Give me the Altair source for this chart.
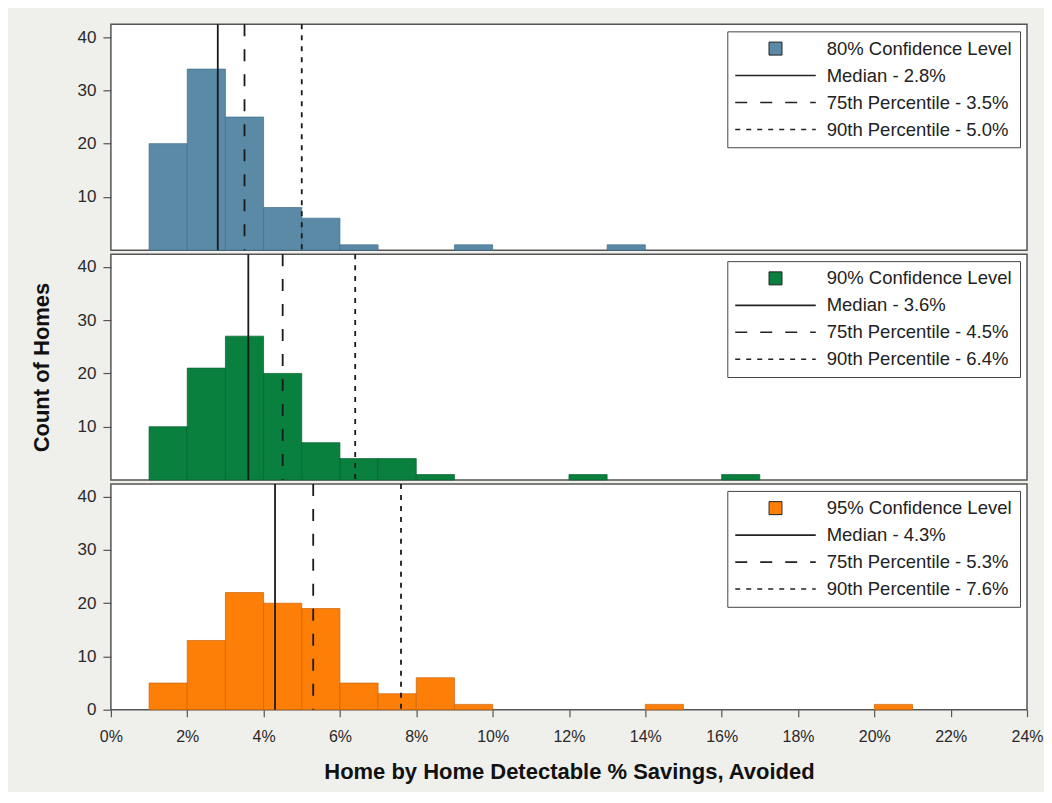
import altair as alt
import pandas as pd

# ---- data ----
levels = ["80% Confidence Level", "90% Confidence Level", "95% Confidence Level"]
bar_colors = ["#5b8aa7", "#0a803e", "#fd7f08"]
edge_colors = ["#3f6e8a", "#06602e", "#c9640a"]

bin_starts_80 = [1, 2, 3, 4, 5, 6, 9, 13]
counts_80 = [20, 34, 25, 8, 6, 1, 1, 1]

bin_starts_90 = [1, 2, 3, 4, 5, 6, 7, 8, 12, 16]
counts_90 = [10, 21, 27, 20, 7, 4, 4, 1, 1, 1]

bin_starts_95 = [1, 2, 3, 4, 5, 6, 7, 8, 9, 14, 20]
counts_95 = [5, 13, 22, 20, 19, 5, 3, 6, 1, 1, 1]

medians = [2.8, 3.6, 4.3]
p75 = [3.5, 4.5, 5.3]
p90 = [5.0, 6.4, 7.6]

bin_width = 1
x_ticks = list(range(0, 25, 2))

FONT = "Liberation Sans"
PANEL_W = 917
PANEL_H = 226
Y_MAX = 42.4


def panel(i, starts, counts, bottom=False, y_title=None):
    entries = [
        levels[i],
        f"Median - {medians[i]:.1f}%",
        f"75th Percentile - {p75[i]:.1f}%",
        f"90th Percentile - {p90[i]:.1f}%",
    ]
    bars = pd.DataFrame({
        "start": starts,
        "end": [s + bin_width for s in starts],
        "count": counts,
        "entry": levels[i],
    })
    lines = pd.DataFrame({
        "value": [medians[i], p75[i], p90[i]],
        "entry": entries[1:],
    })

    test = f"datum.value === '{levels[i]}'"
    legend = alt.Legend(
        title=None,
        orient="top-right",
        offset=7,
        padding=8,
        fillColor="white",
        strokeColor="#444",
        labelFont=FONT,
        labelFontSize=18.5,
        labelColor="#222",
        labelLimit=400,
        rowPadding=8,
        symbolSize=169,
        symbolOffset=31,
        labelOffset=42,
        symbolType=alt.ExprRef(expr=f"{test} ? 'square' : 'M-6.2,0H6.2'"),
        symbolStrokeColor="#222",
        symbolStrokeWidth=alt.ExprRef(expr=f"{test} ? 1 : 1.6"),
    )

    x_scale = alt.Scale(domain=[0, 24], nice=False, zero=False)
    y_scale = alt.Scale(domain=[0, Y_MAX], nice=False)

    if bottom:
        x_axis = alt.Axis(
            values=x_ticks,
            labelExpr="datum.value + '%'",
            labelFlush=False,
            title="Home by Home Detectable % Savings, Avoided",
            grid=False, domain=False,
            tickSize=7, tickColor="#555", tickWidth=1.2,
            labelFont=FONT, labelFontSize=16, labelColor="#2a2a2a", labelPadding=12,
            titleFont=FONT, titleFontSize=22, titleFontWeight="bold", titleColor="#111",
            titlePadding=17,
        )
        y_vals = [0, 10, 20, 30, 40]
    else:
        x_axis = None
        y_vals = [10, 20, 30, 40]

    y_axis = alt.Axis(
        values=y_vals,
        title=y_title if y_title else None,
        grid=False, domain=False,
        tickSize=8, tickColor="#555", tickWidth=1.2,
        labelFont=FONT, labelFontSize=17, labelColor="#2a2a2a", labelPadding=7,
        titleFont=FONT, titleFontSize=22, titleFontWeight="bold", titleColor="#111",
        titlePadding=24,
    )

    bar_layer = alt.Chart(bars).mark_rect(
        stroke=edge_colors[i], strokeWidth=0.7
    ).encode(
        x=alt.X("start:Q", scale=x_scale, axis=x_axis),
        x2="end:Q",
        y=alt.Y("count:Q", scale=y_scale, axis=y_axis),
        y2=alt.datum(0),
        fill=alt.Fill("entry:N", scale=alt.Scale(domain=entries, range=[bar_colors[i]] * 4), legend=legend),
    )

    rule_layer = alt.Chart(lines).mark_rule(color="#1a1a1a", strokeWidth=1.8).encode(
        x=alt.X("value:Q", scale=x_scale),
        strokeDash=alt.StrokeDash(
            "entry:N",
            scale=alt.Scale(domain=entries, range=[[1, 0], [1, 0], [12, 13], [5, 6]]),
            legend=legend,
        ),
    )

    return alt.layer(bar_layer, rule_layer).properties(width=PANEL_W, height=PANEL_H)


p1 = panel(0, bin_starts_80, counts_80)
p2 = panel(1, bin_starts_90, counts_90, y_title="Count of Homes")
p3 = panel(2, bin_starts_95, counts_95, bottom=True)

chart = alt.vconcat(p1, p2, p3, spacing=0).resolve_scale(
    x="independent", y="independent", fill="independent", strokeDash="independent"
).resolve_legend(
    fill="independent", strokeDash="independent"
).properties(
    padding={"left": 21, "top": 14, "right": 0, "bottom": 8},
    background="#efefeb",
).configure_view(
    stroke="#555", strokeWidth=1.5, fill="white"
).configure_concat(spacing=0)

chart.save("out.html", embed_options={"renderer": "svg", "actions": False})
